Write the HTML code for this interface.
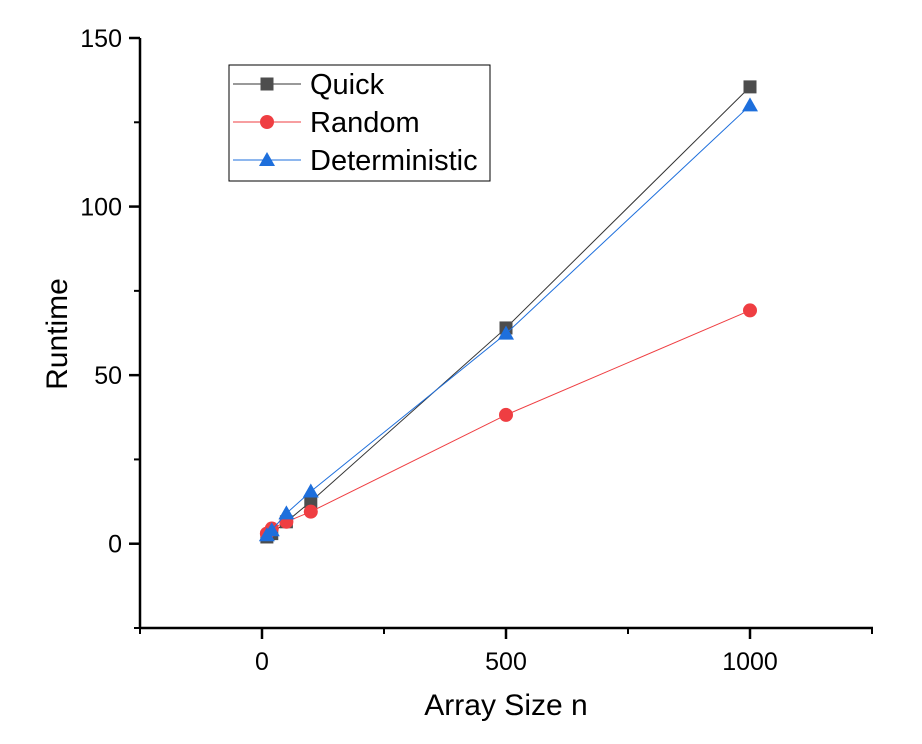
<!DOCTYPE html>
<html><head><meta charset="utf-8"><style>
body{margin:0;background:#fff;}
svg text{font-family:"Liberation Sans",Arial,sans-serif;}
</style></head><body>
<svg id="chart" width="922" height="739" xmlns="http://www.w3.org/2000/svg">
<g id="plot"></g>
</svg>
<script>
const sizes=[10,20,50,100,500,1000];
const quick=[2,3,6.5,12.5,64,135.5];
const random=[3,4.5,6.5,9.5,38.2,69.2];
const deterministic=[2.5,4,9,15.5,62.3,130];
const xTicks=[0,500,1000];
const yTicks=[0,50,100,150];
const xMinor=[-250,250,750,1250];
const yMinor=[-25,25,75,125];
const X0=140,X1=872,Y0=628,Y1=38;
const xMin=-250,xMax=1250,yMin=-25,yMax=150;
const sx=v=>X0+(v-xMin)/(xMax-xMin)*(X1-X0);
const sy=v=>Y0-(v-yMin)/(yMax-yMin)*(Y0-Y1);
const NS='http://www.w3.org/2000/svg';
const g=document.getElementById('plot');
function mk(t,a,p){const e=document.createElementNS(NS,t);for(const k in a)e.setAttribute(k,a[k]);(p||g).appendChild(e);return e;}
let e=mk('line',{x1:X0,y1:Y0,x2:X1+1,y2:Y0,stroke:'#000','stroke-width':2.5});


e=mk('line',{x1:X0,y1:Y0+1,x2:X0,y2:Y1,stroke:'#000','stroke-width':2.5});


xTicks.forEach(v=>{mk('line',{x1:sx(v),y1:Y0,x2:sx(v),y2:Y0+11,stroke:'#000','stroke-width':2.5});
 const t=mk('text',{x:sx(v),y:Y0+42,'text-anchor':'middle','font-size':25});t.textContent=v;
 
 });
xMinor.forEach(v=>mk('line',{x1:sx(v),y1:Y0,x2:sx(v),y2:Y0+6,stroke:'#000','stroke-width':2}));
yTicks.forEach(v=>{mk('line',{x1:X0,y1:sy(v),x2:X0-11,y2:sy(v),stroke:'#000','stroke-width':2.5});
 const t=mk('text',{x:X0-18,y:sy(v)+9,'text-anchor':'end','font-size':25});t.textContent=v;
 
 });
yMinor.forEach(v=>mk('line',{x1:X0,y1:sy(v),x2:X0-6,y2:sy(v),stroke:'#000','stroke-width':2}));
e=mk('text',{x:506,y:715,'text-anchor':'middle','font-size':30});e.textContent='Array Size n';


e=mk('text',{x:67,y:334,'text-anchor':'middle','font-size':30,transform:'rotate(-90 67 334)'});e.textContent='Runtime';


function marker(type,x,y,c,p){
 if(type==='s')return mk('rect',{x:x-6.5,y:y-6.5,width:13,height:13,fill:c},p);
 if(type==='c')return mk('circle',{cx:x,cy:y,r:7,fill:c},p);
 return mk('polygon',{points:`${x},${y-8} ${x+8},${y+6} ${x-8},${y+6}`,fill:c},p);
}
const series=[['quick',quick,'#4d4d4d','s','#333'],['random',random,'#ef3e42','c','#ef3e42'],['deterministic',deterministic,'#1e6fdc','t','#1e6fdc']];
series.forEach(([n,vals,c,m,lc])=>{
 const sg=mk('g',{});
 
 
 const pl=mk('polyline',{points:sizes.map((s,i)=>sx(s)+','+sy(vals[i])).join(' '),fill:'none',stroke:lc,'stroke-width':1},sg);
 
 
 sizes.forEach((s,i)=>{const mm=marker(m,sx(s),sy(vals[i]),c,sg);
  
  });
});
const lg=mk('g',{});


mk('rect',{x:229,y:65,width:261,height:116,fill:'#fff',stroke:'#000','stroke-width':1},lg);
const names=['Quick','Random','Deterministic'];
series.forEach(([n,vals,c,m,lc],i)=>{
 const y=84+i*38;
 const eg=mk('g',{},lg);
 
 
 mk('line',{x1:233,y1:y,x2:301,y2:y,stroke:lc,'stroke-width':1},eg);
 marker(m,267,y,c,eg);
 const t=mk('text',{x:310,y:y+10,'font-size':29},eg);t.textContent=names[i];
});
</script>
</body></html>
